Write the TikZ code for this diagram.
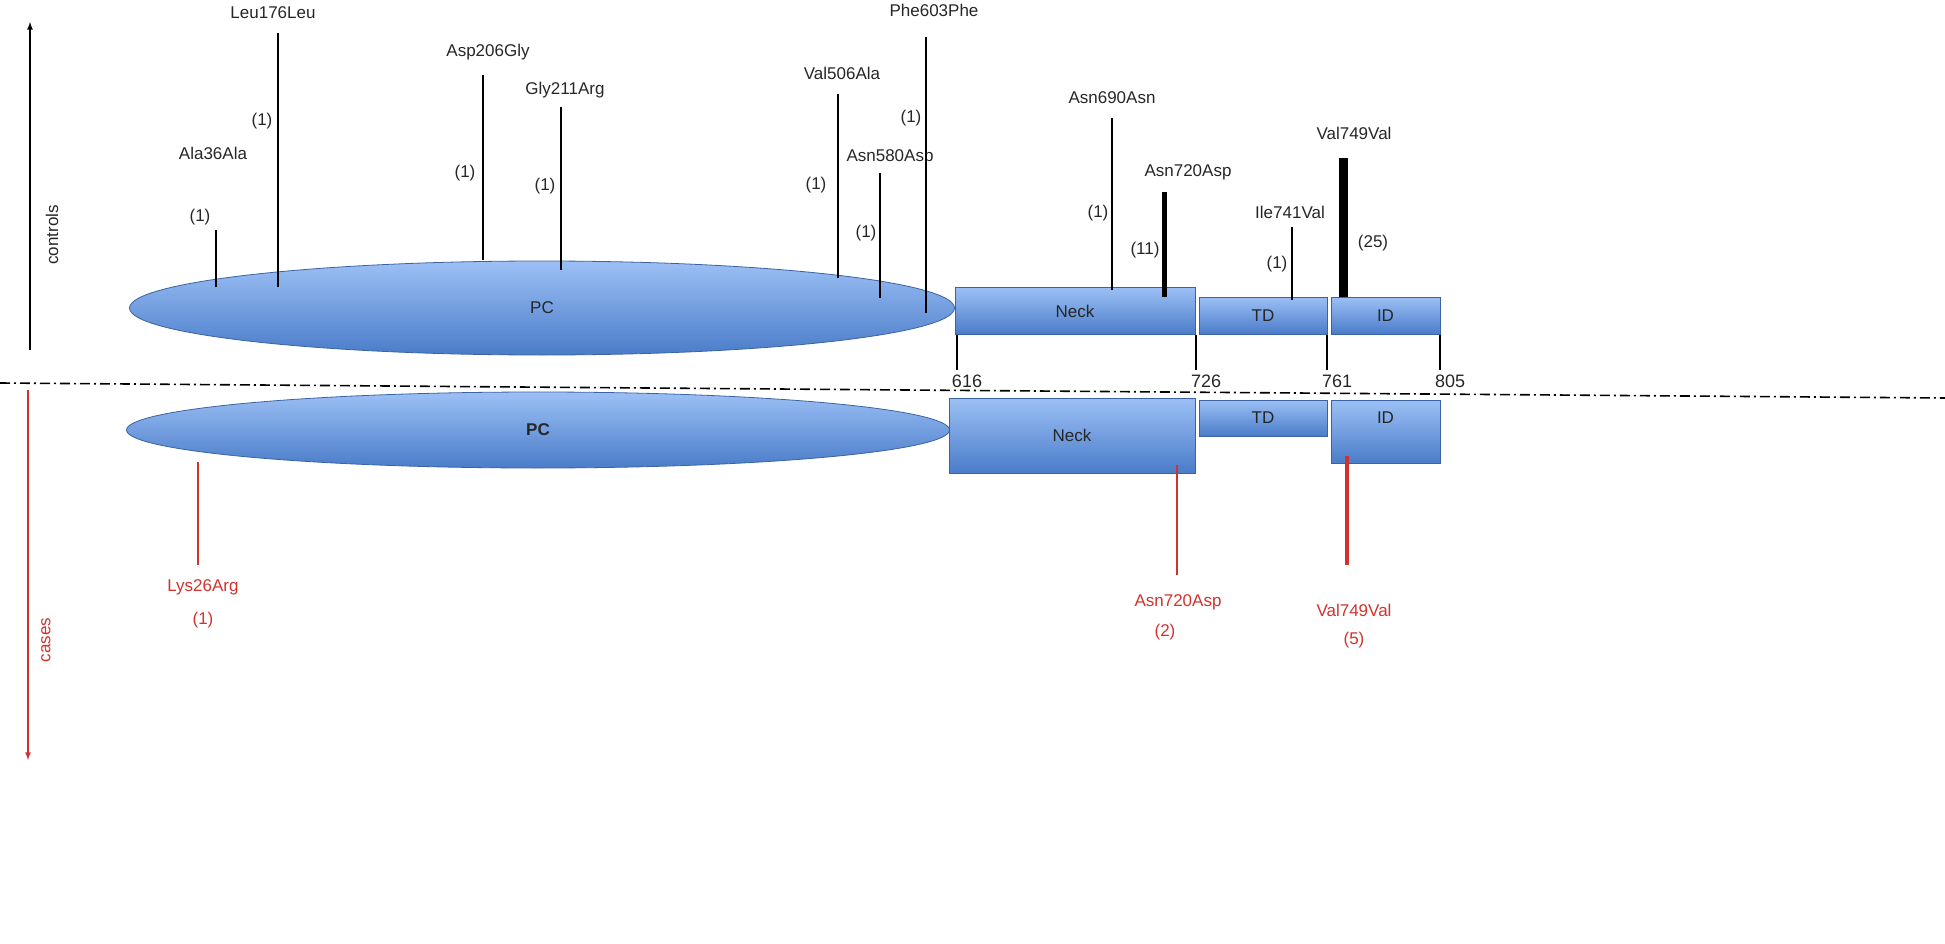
\documentclass[tikz,border=0pt]{standalone}
\usepackage{fontspec}
\setmainfont{Liberation Sans}
\usetikzlibrary{shapes.geometric}
\definecolor{domtop}{HTML}{9CC0F5}
\definecolor{dombot}{HTML}{4A7CC9}
\definecolor{casered}{HTML}{D0332E}
\tikzset{
  protdom/.style={draw=dombot!80!black,top color=domtop,bottom color=dombot,line width=0.8pt},
  lbl/.style={font=\fontsize{17}{19}\selectfont,text=black!85},
  redlbl/.style={lbl,text=casered},
  mut/.style={draw=black,line width=1.6pt},
  redmut/.style={draw=casered,line width=1.4pt},
}
\begin{document}
\begin{tikzpicture}[x=1pt,y=-1pt]
  \useasboundingbox (0,0) rectangle (1945,944);
  % controls / cases axes
  \coordinate (cbot) at (30,350); \coordinate (ctop) at (30,22);
  \draw [-latex,line width=1.6pt] (cbot) -- (ctop);
  \node [lbl,rotate=90] (controls) at (52,235) {controls};
  \coordinate (rtop) at (28,390); \coordinate (rbot) at (28,760);
  \draw [-latex,line width=1.6pt,casered] (rtop) -- (rbot);
  \node [redlbl,rotate=90] (cases) at (46,640) {cases};
  % separator
  \coordinate (sepl) at (0,383); \coordinate (sepr) at (1945,398);
  \draw [dash pattern=on 10pt off 4pt on 2pt off 4pt,line width=1.6pt] (sepl) -- (sepr);
  % controls protein
  \node [protdom,ellipse,minimum width=825pt,minimum height=94pt,inner sep=0] (pc) at (542,308) {};
  \node [lbl] at (pc.center) {PC};
  \node [protdom,minimum width=240pt,minimum height=47pt,inner sep=0,lbl] (neck) at (1075,311) {Neck};
  \node [protdom,minimum width=128pt,minimum height=37pt,inner sep=0,lbl] (td) at (1263,315.5) {TD};
  \node [protdom,minimum width=109pt,minimum height=37pt,inner sep=0,lbl] (id) at (1385.5,315.5) {ID};
  \foreach \x/\n in {957/616,1196/726,1327/761,1440/805} {
    \draw [line width=1.6pt] (\x,335) -- (\x,370);
    \node [lbl,font=\fontsize{18}{20}\selectfont] at (\x+10,381) {\n};
  }
  % controls mutations
  \foreach \x/\t/\b/\lx/\ly/\name/\cx/\cy/\cnt/\w in {
      216/230/287/213/153/Ala36Ala/200/217/(1)/1.6,
      278/33/287/273/13/Leu176Leu/262/121/(1)/1.6,
      483/75/260/488/52/Asp206Gly/465/173/(1)/1.6,
      561/107/270/565/90/Gly211Arg/545/186/(1)/1.6,
      838/94/278/842/73/Val506Ala/816/185/(1)/1.6,
      880/173/298/890/157/Asn580Asp/866/233/(1)/1.6,
      926/37/313/934/10/Phe603Phe/911/118/(1)/1.6,
      1112/118/290/1112/98/Asn690Asn/1098/213/(1)/1.6,
      1164/192/297/1188/172/Asn720Asp/1145/250/(11)/5,
      1292/227/300/1290/212/Ile741Val/1277/264/(1)/1.6,
      1343/158/297/1354/133/Val749Val/1373/243/(25)/9} {
    \draw [mut,line width=\w pt] (\x,\t) -- (\x,\b);
    \node [lbl] at (\lx,\ly) {\name};
    \node [lbl] at (\cx,\cy) {\cnt};
  }
  % cases protein
  \node [protdom,ellipse,minimum width=823pt,minimum height=76pt,inner sep=0] (pcb) at (538,430) {};
  \node [lbl,font=\bfseries\fontsize{17}{19}\selectfont] at (pcb.center) {PC};
  \node [protdom,minimum width=246pt,minimum height=75pt,inner sep=0,lbl] (neckb) at (1072,435.5) {Neck};
  \node [protdom,minimum width=128pt,minimum height=36pt,inner sep=0,lbl] (tdb) at (1263,418) {TD};
  \node [protdom,minimum width=109pt,minimum height=63pt,inner sep=0,anchor=north] (idb) at (1385.5,400) {};
  \node [lbl] at (1385.5,418) {ID};
  % cases mutations
  \foreach \x/\t/\b/\name/\lx/\ly/\cx/\cy/\cnt/\w in {
      198/462/565/Lys26Arg/203/587/203/620/(1)/1.4,
      1177/465/575/Asn720Asp/1178/602/1165/632/(2)/1.4,
      1347/456/565/Val749Val/1354/610/1354/640/(5)/4.5} {
    \draw [redmut,line width=\w pt] (\x,\t) -- (\x,\b);
    \node [redlbl] at (\lx,\ly) {\name};
    \node [redlbl] at (\cx,\cy) {\cnt};
  }
\end{tikzpicture}
\end{document}
